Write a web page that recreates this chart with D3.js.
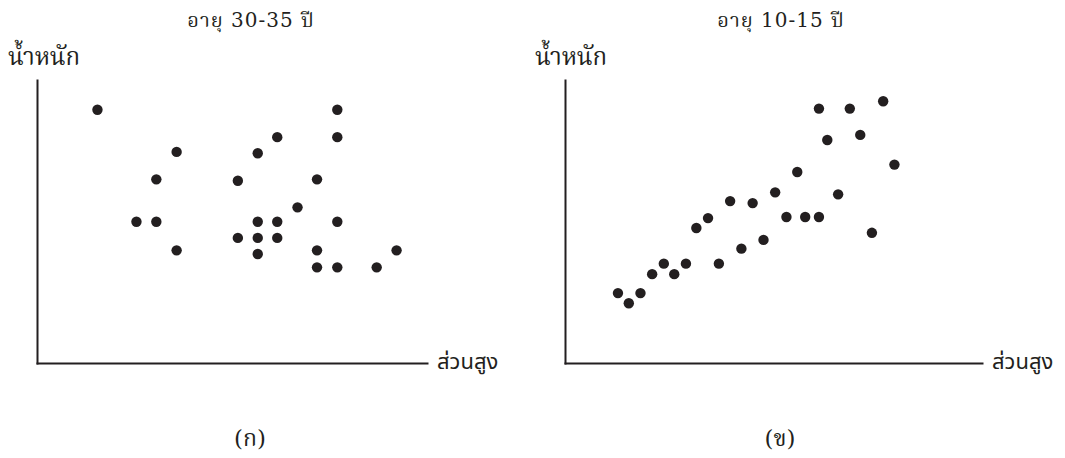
<!DOCTYPE html>
<html>
<head>
<meta charset="utf-8">
<script src="https://cdn.jsdelivr.net/npm/d3@7"></script>
<style>
  html, body { margin: 0; padding: 0; background: #fff; }
  svg { display: block; }
  .title { font-family: "DejaVu Serif", "Norasi", "Noto Serif Thai", "Loma", serif; font-size: 20px; fill: #231f20; letter-spacing: 1px; }
  .ylab { font-family: "Norasi", "Noto Serif Thai", "Loma", "DejaVu Serif", serif; font-size: 24px; fill: #231f20; }
  .xlab { font-family: "Noto Sans Thai", "DejaVu Sans", "Noto Sans", sans-serif; font-size: 22px; fill: #231f20; }
  .cap { font-family: "DejaVu Serif", "Norasi", "Noto Serif Thai", serif; font-size: 23px; fill: #231f20; }
</style>
</head>
<body>
<svg id="chart" width="1065" height="458"></svg>
<script>
// Panel titles and captions
const titles = ["อายุ 30-35 ปี", "อายุ 10-15 ปี"];
const captions = ["(ก)", "(ข)"];
const yLabel = "น้ำหนัก";
const xLabel = "ส่วนสูง";

// Relative height (x) and weight (y) values, 0–100 scale
const heightA = [15.5, 77.0, 61.6, 77.0, 35.8, 56.6, 30.6, 51.5, 71.8, 66.8, 25.5, 30.6, 56.6,
                 61.6, 77.0, 51.5, 56.6, 61.6, 35.8, 56.6, 71.8, 92.2, 71.8, 77.0, 87.1];
const weightA = [89.5, 89.5, 79.8, 79.8, 74.6, 74.1, 64.9, 64.4, 64.9, 55.0, 49.9, 49.9, 49.9,
                 49.9, 49.9, 44.2, 44.2, 44.2, 39.8, 38.5, 39.8, 39.8, 33.8, 33.8, 33.8];

const heightB = [60.9, 68.3, 76.3, 62.9, 70.8, 79.0, 55.7, 50.4, 65.5, 39.6, 45.0, 34.3, 31.5, 53.1,
                 57.6, 60.9, 73.6, 47.6, 42.3, 23.7, 29.0, 36.9, 20.9, 26.2, 12.7, 18.1, 15.3];
const weightB = [89.9, 89.9, 92.5, 78.8, 80.6, 70.1, 67.5, 60.3, 59.6, 57.2, 56.5, 51.2, 47.7, 51.6,
                 51.6, 51.6, 46.0, 43.5, 40.4, 35.1, 35.1, 35.1, 31.4, 31.4, 24.7, 24.7, 21.1];

const svg = d3.select("#chart");

const panels = [
  { left: 37, right: 427, top: 80, bottom: 363, xs: heightA, ys: weightA,
    titleX: 251, ylabX: 8, xlabX: 437, capX: 250 },
  { left: 565, right: 982, top: 80, bottom: 363, xs: heightB, ys: weightB,
    titleX: 781, ylabX: 535, xlabX: 992, capX: 780 }
];

panels.forEach((p, i) => {
  const x = d3.scaleLinear().domain([0, 100]).range([p.left, p.right]);
  const y = d3.scaleLinear().domain([0, 100]).range([p.bottom, p.top]);
  const g = svg.append("g");

  // Bare axes: domain lines only, no ticks
  const axX = g.append("g").attr("transform", `translate(0,${p.bottom})`)
    .call(d3.axisBottom(x).tickValues([]).tickSizeOuter(0));
  const axY = g.append("g").attr("transform", `translate(${p.left},0)`)
    .call(d3.axisLeft(y).tickValues([]).tickSizeOuter(0));
  [axX, axY].forEach(a => a.select(".domain")
    .attr("stroke", "#231f20").attr("stroke-width", 2).attr("stroke-linecap", "square"));

  // Scatter points
  g.selectAll("circle").data(d3.range(p.xs.length)).join("circle")
    .attr("cx", j => x(p.xs[j]))
    .attr("cy", j => y(p.ys[j]))
    .attr("r", 5.2)
    .attr("fill", "#231f20");

  g.append("text").attr("class", "title").attr("x", p.titleX).attr("y", 27)
    .attr("text-anchor", "middle").text(titles[i]);
  g.append("text").attr("class", "ylab").attr("x", p.ylabX).attr("y", 65).text(yLabel);
  g.append("text").attr("class", "xlab").attr("x", p.xlabX).attr("y", 369).text(xLabel);
  g.append("text").attr("class", "cap").attr("x", p.capX).attr("y", 446)
    .attr("text-anchor", "middle").text(captions[i]);
});
</script>
</body>
</html>
